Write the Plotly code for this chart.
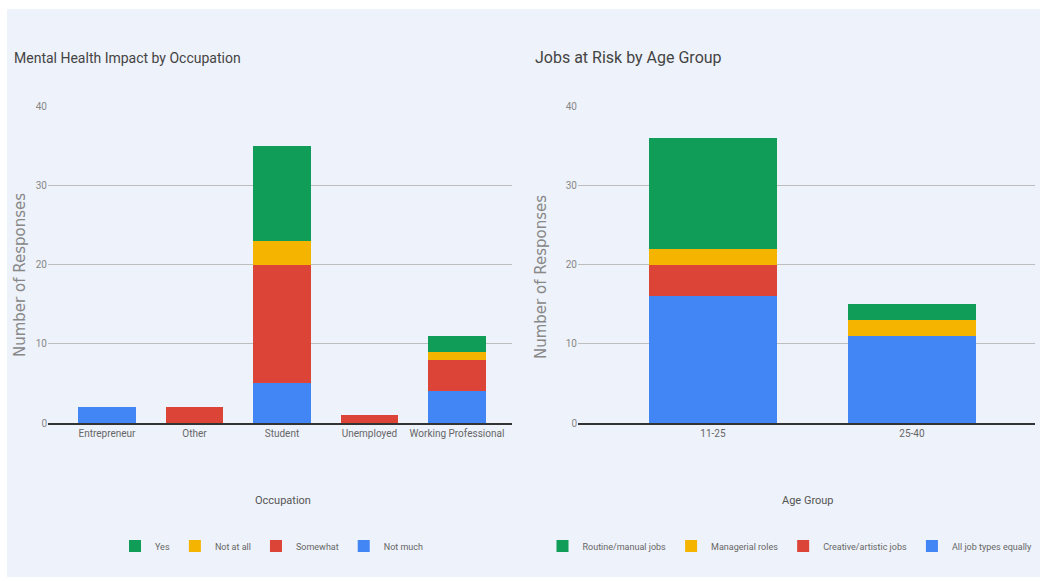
import plotly.graph_objects as go

W, H = 1045, 579

# ---- data ----
occupations = ["Entrepreneur", "Other", "Student", "Unemployed", "Working Professional"]
occ_not_much = [2, 0, 5, 0, 4]
occ_somewhat = [0, 2, 15, 1, 4]
occ_not_at_all = [0, 0, 3, 0, 1]
occ_yes = [0, 0, 12, 0, 2]

age_groups = ["11-25", "25-40"]
age_all_equal = [16, 11]
age_creative = [4, 0]
age_managerial = [2, 2]
age_routine = [14, 2]

y_ticks = [0, 10, 20, 30, 40]

GREEN, YELLOW, RED, BLUE = "#0f9d58", "#f4b400", "#db4437", "#4285f4"
FONT = "Roboto"
GRAY = "#666666"

def px_x(v):
    return v / W

def px_y(v):
    return 1 - v / H

fig = go.Figure()

left_series = [("Not much", occ_not_much, BLUE), ("Somewhat", occ_somewhat, RED),
               ("Not at all", occ_not_at_all, YELLOW), ("Yes", occ_yes, GREEN)]
for name, vals, col in left_series:
    fig.add_trace(go.Bar(x=occupations, y=vals, name=name, marker=dict(color=col, line=dict(width=0)),
                         width=0.66, xaxis="x", yaxis="y", legend="legend"))

right_series = [("All job types equally", age_all_equal, BLUE), ("Creative/artistic jobs", age_creative, RED),
                ("Managerial roles", age_managerial, YELLOW), ("Routine/manual jobs", age_routine, GREEN)]
for name, vals, col in right_series:
    fig.add_trace(go.Bar(x=age_groups, y=vals, name=name, marker=dict(color=col, line=dict(width=0)),
                         width=0.64, xaxis="x2", yaxis="y2", legend="legend2"))

ydom = [px_y(423), px_y(106)]
axis_common = dict(tickfont=dict(family=FONT, size=10, color=GRAY), showgrid=False, tickangle=0,
                   showline=True, linecolor="#333333", linewidth=1.5, ticks="", zeroline=False,
                   automargin=False)
yaxis_common = dict(range=[0, 40], tickvals=y_ticks, tickfont=dict(family=FONT, size=10, color="#888888"),
                    showgrid=True, gridcolor="#bdbdbd", gridwidth=1, zeroline=False, showline=False, ticks="",
                    automargin=False)

legend_common = dict(orientation="h", xanchor="center", yanchor="middle", traceorder="reversed",
                     font=dict(family=FONT, size=9, color=GRAY), bgcolor="rgba(0,0,0,0)",
                     itemwidth=30, tracegroupgap=0)

fig.update_layout(
    width=W, height=H,
    margin=dict(l=0, r=0, t=0, b=0, autoexpand=False),
    paper_bgcolor="white",
    plot_bgcolor="rgba(0,0,0,0)",
    barmode="stack",
    font=dict(family=FONT, color=GRAY),
    xaxis=dict(domain=[px_x(48), px_x(512)], range=[-0.674, 4.629], anchor="y", **axis_common),
    yaxis=dict(domain=ydom, anchor="x", **yaxis_common),
    xaxis2=dict(domain=[px_x(578), px_x(1035)], range=[-0.678, 1.618], anchor="y2", **axis_common),
    yaxis2=dict(domain=ydom, anchor="x2", **yaxis_common),
    legend=dict(x=px_x(272), y=px_y(546), **legend_common),
    legend2=dict(x=px_x(790), y=px_y(546), **legend_common),
    shapes=[dict(type="rect", xref="paper", yref="paper", x0=px_x(7), x1=px_x(1040),
                 y0=px_y(577), y1=px_y(9), fillcolor="#eef2fa", line=dict(width=0), layer="below")],
    annotations=[
        dict(text="Mental Health Impact by Occupation", x=px_x(12), y=px_y(58), xref="paper", yref="paper",
             xanchor="left", yanchor="middle", showarrow=False, font=dict(family=FONT, size=14, color="#444444")),
        dict(text="Jobs at Risk by Age Group", x=px_x(533), y=px_y(58), xref="paper", yref="paper",
             xanchor="left", yanchor="middle", showarrow=False, font=dict(family=FONT, size=16, color="#444444")),
        dict(text="Occupation", x=px_x(283), y=px_y(500), xref="paper", yref="paper",
             xanchor="center", yanchor="middle", showarrow=False, font=dict(family=FONT, size=11, color="#555555")),
        dict(text="Age Group", x=px_x(808), y=px_y(500), xref="paper", yref="paper",
             xanchor="center", yanchor="middle", showarrow=False, font=dict(family=FONT, size=11, color="#555555")),
        dict(text="Number of Responses", x=px_x(20), y=px_y(275), xref="paper", yref="paper", textangle=-90,
             xanchor="center", yanchor="middle", showarrow=False,
             font=dict(family="DejaVu Sans", size=15, color="#888888")),
        dict(text="Number of Responses", x=px_x(541), y=px_y(277), xref="paper", yref="paper", textangle=-90,
             xanchor="center", yanchor="middle", showarrow=False,
             font=dict(family="DejaVu Sans", size=15, color="#888888")),
    ],
)

fig.write_html("out.html")
